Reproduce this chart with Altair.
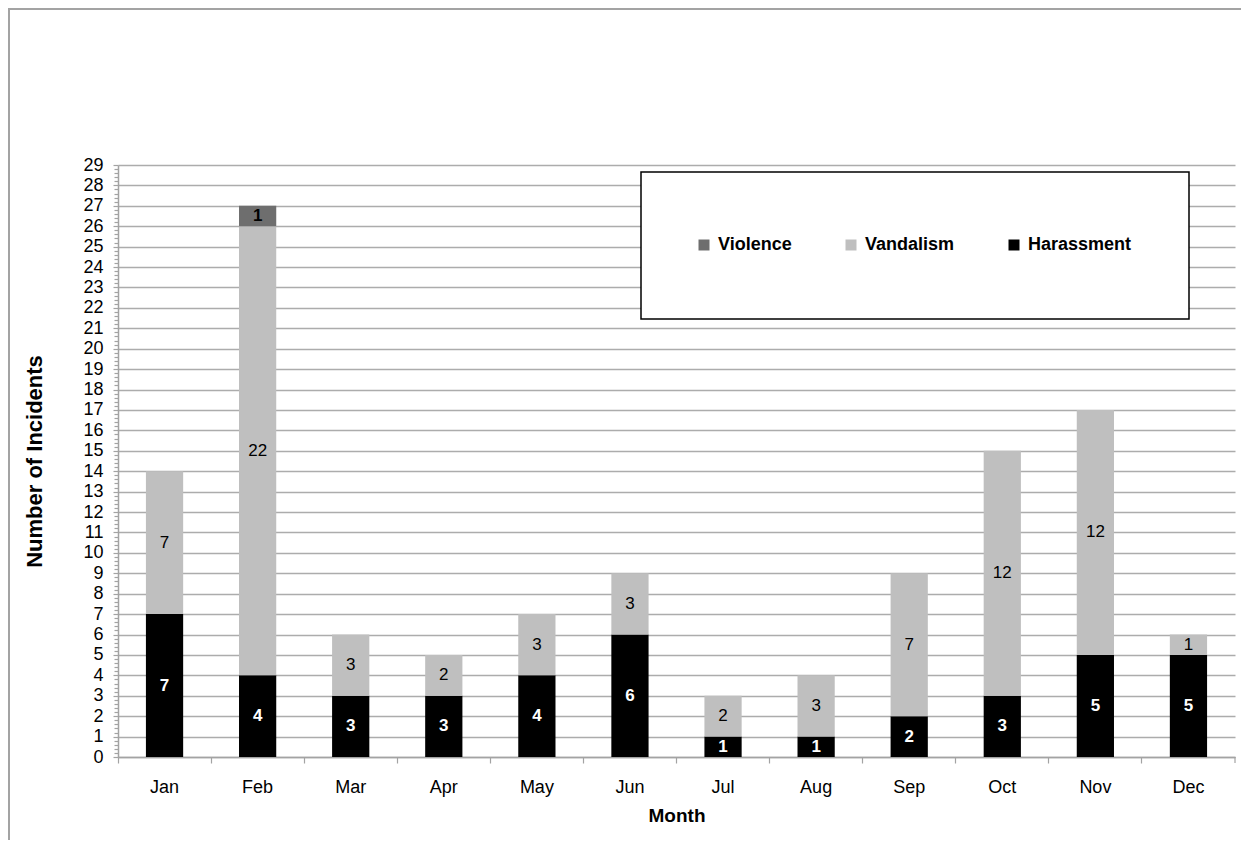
import altair as alt
import pandas as pd

months = ["Jan", "Feb", "Mar", "Apr", "May", "Jun", "Jul", "Aug", "Sep", "Oct", "Nov", "Dec"]
harassment = [7, 4, 3, 3, 4, 6, 1, 1, 2, 3, 5, 5]
vandalism = [7, 22, 3, 2, 3, 3, 2, 3, 7, 12, 12, 1]
violence = [0, 1, 0, 0, 0, 0, 0, 0, 0, 0, 0, 0]
series = ["Violence", "Vandalism", "Harassment"]
colors = ["#6e6e6e", "#bfbfbf", "#000000"]
y_ticks = list(range(0, 30))
minor_ticks = [i / 5 for i in range(0, 146) if i % 5 != 0]

rows = []
for i, m in enumerate(months):
    base = 0
    for s, vals in (("Harassment", harassment), ("Vandalism", vandalism), ("Violence", violence)):
        v = vals[i]
        rows.append(dict(month=m, series=s, value=v, start=base, end=base + v, mid=base + v / 2))
        base += v
df = pd.DataFrame(rows)

F = "Liberation Sans, Arial, sans-serif"
W, H = 1117, 592

x_scale = alt.Scale(domain=months, paddingInner=0, paddingOuter=0)
y_scale = alt.Scale(domain=[0, 29], nice=False, zero=True)


def x_enc():
    return alt.X("month:N", sort=months, scale=x_scale,
                 axis=alt.Axis(title="Month", bandPosition=0, labelAngle=0,
                               ticks=True, tickSize=6, labelPadding=15, labelFontSize=18,
                               titleFontSize=19, titleFontWeight="bold", titlePadding=10,
                               grid=False))


frame = alt.Chart(alt.Data(values=[{}])).mark_rect(
    fillOpacity=0, stroke="#a3a3a3", strokeWidth=2
).encode(x=alt.value(-109), x2=alt.value(W + 200), y=alt.value(-156), y2=alt.value(H + 300))

end_tick = alt.Chart(alt.Data(values=[{}])).mark_rule(
    color="#a3a3a3", strokeWidth=1.2
).encode(x=alt.value(W), y=alt.value(H), y2=alt.value(H + 6))

legend_box = alt.Chart(alt.Data(values=[{}])).mark_rect(
    fill="white", stroke="black", strokeWidth=1.5
).encode(x=alt.value(523), x2=alt.value(1071), y=alt.value(7), y2=alt.value(154))

bars = alt.Chart(df).transform_filter("datum.value > 0").mark_bar(
    width=alt.RelativeBandSize(0.4)
).encode(
    x=x_enc(),
    y=alt.Y("start:Q", scale=y_scale,
            axis=alt.Axis(title="Number of Incidents", values=y_ticks, tickSize=5, labelPadding=10,
                          labelFontSize=18, titleFontSize=22, titleFontWeight="bold",
                          titlePadding=36, grid=True)),
    y2="end:Q",
    color=alt.Color("series:N", scale=alt.Scale(domain=series, range=colors),
                    legend=alt.Legend(orient="none", legendX=577, legendY=71, direction="horizontal",
                                      title=None, symbolType="square", symbolSize=121,
                                      symbolStrokeWidth=0, labelFont=F, labelFontSize=18,
                                      labelFontWeight="bold", labelColor="black", padding=0,
                                      columnPadding=50, labelOffset=5)),
)


def labels(name, color, weight):
    return alt.Chart(df).transform_filter(
        f"datum.series == '{name}' && datum.value > 0"
    ).mark_text(color=color, fontWeight=weight, fontSize=17, font=F, baseline="middle").encode(
        x=x_enc(),
        y=alt.Y("mid:Q", scale=y_scale, axis=None),
        text="value:Q",
    )


minor = alt.Chart(df).mark_point(opacity=0).encode(
    y=alt.Y("end:Q", scale=y_scale,
            axis=alt.Axis(orient="left", values=minor_ticks, labels=False, domain=False,
                          grid=False, ticks=True, tickSize=4, title=None))
)

chart = alt.layer(
    frame, end_tick, bars,
    labels("Harassment", "white", "bold"),
    labels("Vandalism", "black", "normal"),
    labels("Violence", "black", "bold"),
    minor, legend_box,
).resolve_axis(y="independent").properties(
    width=W, height=H,
    padding={"left": 110, "top": 157, "right": 6, "bottom": 83},
    autosize=alt.AutoSizeParams(type="none"),
    background="white",
).configure_view(stroke=None).configure_axis(
    labelFont=F, titleFont=F, labelColor="black", titleColor="black",
    domainColor="#a3a3a3", tickColor="#a3a3a3", gridColor="#acacac",
    domainWidth=1.5, gridWidth=1.5, tickWidth=1.2,
)

chart.save("out.html", embed_options={"renderer": "svg", "actions": False})
